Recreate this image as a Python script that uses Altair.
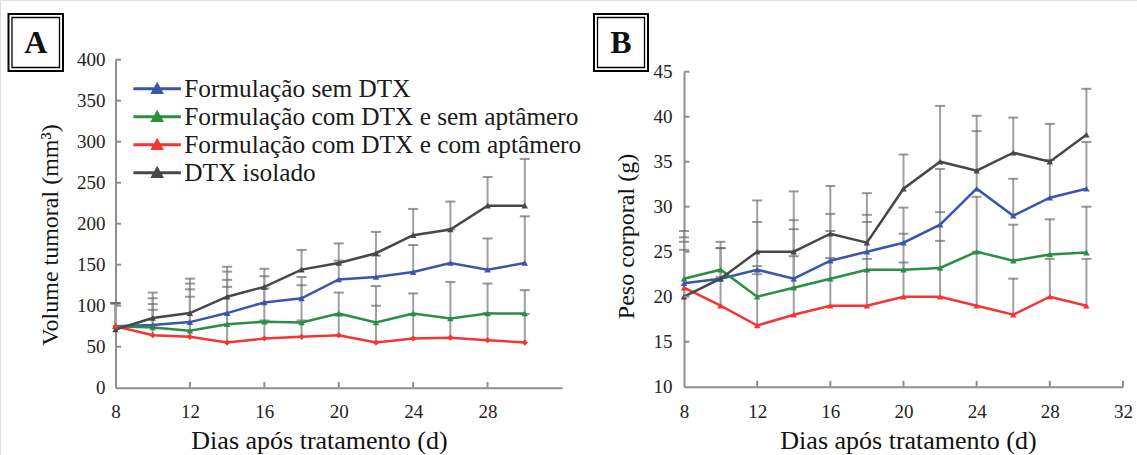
import altair as alt
import pandas as pd

SERIF = "Liberation Serif"

days = [8, 10, 12, 14, 16, 18, 20, 22, 24, 26, 28, 30]
series = [
    "Formulação sem DTX",
    "Formulação com DTX e sem aptâmero",
    "Formulação com DTX e com aptâmero",
    "DTX isolado",
]
colors = ["#3a56ab", "#2a8f44", "#f53434", "#474747"]

# Panel A: tumour volume (mm³) – means and upper error
vol_sem_dtx = [75, 76.5, 80, 91, 104, 109, 132, 135, 141, 152, 144, 152]
vol_sem_apt = [75, 73.5, 69.5, 77.5, 80.5, 79.5, 90.5, 79.5, 90.5, 84.5, 90.5, 90.5]
vol_com_apt = [75, 64, 62, 55, 60, 62, 64, 55, 60, 61, 58, 55]
vol_dtx = [71, 85, 91, 111, 123, 144, 152, 164, 186, 193, 222, 222]

err_vol_sem_dtx = [28, 32.5, 47, 50.5, 32, 26, 23, 26, 33, 41, 38, 57]
err_vol_sem_apt = [28, 28.5, 50.5, 54, 40.5, 45.5, 25.5, 44.5, 24.5, 44.5, 36.5, 28.5]
err_vol_com_apt = [28, 31, 49, 68, 22, 20, 24, 45, 30, 24, 33, 35]
err_vol_dtx = [32, 31, 42, 36.5, 22, 24, 24, 26, 32, 34, 35, 57]

# Panel B: body weight (g) – means and upper error
peso_sem_dtx = [21.5, 22, 23, 22, 24, 25, 26, 28, 32, 29, 31, 32]
peso_sem_apt = [22, 23, 20, 21, 22, 23, 23, 23.2, 25, 24, 24.7, 24.9]
peso_com_apt = [21, 19, 16.8, 18, 19, 19, 20, 20, 19, 18, 20, 19]
peso_dtx = [20, 22, 25, 25, 27, 26, 32, 35, 34, 36, 35, 38]

err_peso_sem_dtx = [5.1, 3.4, 5.3, 6.5, 5.2, 4.1, 3.9, 6.2, 6.4, 4.1, 4.2, 5.2]
err_peso_sem_apt = [5.3, 3.1, 3.4, 6.5, 5.3, 5.3, 4.0, 6.2, 6.1, 4.0, 3.9, 5.1]
err_peso_com_apt = [5.1, 3.2, 5.7, 6.5, 5.3, 5.2, 3.8, 6.2, 6.0, 4.0, 4.2, 5.2]
err_peso_dtx = [5.2, 3.4, 5.7, 6.7, 5.3, 5.5, 3.8, 6.2, 6.1, 3.9, 4.2, 5.1]

ticks_x_a = [8, 12, 16, 20, 24, 28]
ticks_x_b = [8, 12, 16, 20, 24, 28, 32]
ticks_y_a = [0, 50, 100, 150, 200, 250, 300, 350, 400]
ticks_y_b = [10, 15, 20, 25, 30, 35, 40, 45]


def long_table(values, errors):
    rows = []
    for name, vals, errs in zip(series, values, errors):
        for d, v, e in zip(days, vals, errs):
            rows.append({"dia": d, "serie": name, "valor": v, "topo": v + e})
    return pd.DataFrame(rows)


df_a = long_table([vol_sem_dtx, vol_sem_apt, vol_com_apt, vol_dtx],
                  [err_vol_sem_dtx, err_vol_sem_apt, err_vol_com_apt, err_vol_dtx])
df_b = long_table([peso_sem_dtx, peso_sem_apt, peso_com_apt, peso_dtx],
                  [err_peso_sem_dtx, err_peso_sem_apt, err_peso_com_apt, err_peso_dtx])

AXIS_GREY = "#8f8f8f"
axis_style = dict(
    grid=False, ticks=False, tickSize=0, domainColor=AXIS_GREY, domainWidth=2,
    labelFont=SERIF, labelFontSize=19, labelColor="#222222", labelFlush=False,
    labelOverlap=False, titleFont=SERIF, titleColor="#111111",
    titleFontWeight="normal", titleBaseline="alphabetic", format="d",
)

color_scale = alt.Scale(domain=series, range=colors)
# legend swatch: a short line with a triangle marker in the middle
legend = alt.Legend(
    orient="none", legendX=144.5, legendY=76, title=None,
    symbolType="M-2.5,0H2.5M-0.45,0.4L0,-0.4L0.45,0.4Z",
    symbolSize=361, symbolStrokeWidth=3, labelFont=SERIF, labelFontSize=25.3,
    labelColor="#1a1a1a", labelOffset=14.5, rowPadding=2, padding=0,
    labelLimit=0,
)


def panel(df, xs, ys, ax_x, ax_y, tx, ty, x_tick_len, y_tick_len, diamond_series):
    X = lambda f: alt.X(f, type="quantitative", scale=xs, axis=ax_x)
    Y = lambda f: alt.Y(f, type="quantitative", scale=ys, axis=ax_y)
    base = alt.Chart(df)
    err = base.mark_rule(color="#a0a0a0", strokeWidth=2).encode(
        x=X("dia"), y=Y("valor"), y2="topo")
    cap = base.mark_tick(color="#6c6c6c", orient="horizontal", size=10,
                         thickness=2).encode(x=X("dia"), y=Y("topo"))
    line = base.mark_line(strokeWidth=2.5).encode(
        x=X("dia"), y=Y("valor"),
        color=alt.Color("serie:N", scale=color_scale, legend=legend))
    is_diamond = alt.FieldOneOfPredicate(field="serie", oneOf=diamond_series or ["-"])
    pts_tri = base.transform_filter(~is_diamond).mark_point(
        filled=True, size=42, opacity=1, shape="triangle-up").encode(
        x=X("dia"), y=Y("valor"),
        color=alt.Color("serie:N", scale=color_scale, legend=None))
    pts_dia = base.transform_filter(is_diamond).mark_point(
        filled=True, size=38, opacity=1, shape="diamond").encode(
        x=X("dia"), y=Y("valor"),
        color=alt.Color("serie:N", scale=color_scale, legend=None))
    # short inward ticks along both axes
    xt = pd.DataFrame({"t": tx, "y0": ys.domain[0], "y1": ys.domain[0] + y_tick_len})
    yt = pd.DataFrame({"t": ty, "x0": xs.domain[0], "x1": xs.domain[0] + x_tick_len})
    tick_x = alt.Chart(xt).mark_rule(color=AXIS_GREY, strokeWidth=2).encode(
        x=X("t"), y=Y("y0"), y2="y1")
    tick_y = alt.Chart(yt).mark_rule(color=AXIS_GREY, strokeWidth=2).encode(
        y=Y("t"), x=X("x0"), x2="x1")
    return alt.layer(err, cap, line, pts_tri, pts_dia, tick_x, tick_y)


xs_a = alt.Scale(domain=[8, 32], range=[115.5, 562], nice=False, zero=False)
ys_a = alt.Scale(domain=[0, 400], range=[387.7, 59.7], nice=False)
xs_b = alt.Scale(domain=[8, 32], range=[684, 1123], nice=False, zero=False)
ys_b = alt.Scale(domain=[10, 45], range=[386.7, 71.7], nice=False, zero=False)

ax_xa = alt.Axis(orient="bottom", offset=-67.3, values=ticks_x_a, labelPadding=15,
                 title="Dias após tratamento (d)", titleFontSize=26,
                 titleX=319, titleY=61, **axis_style)
ax_ya = alt.Axis(orient="left", offset=-115.5, values=ticks_y_a, labelPadding=10.5,
                 title="Volume tumoral (mm³)", titleFontSize=24, titleAngle=270,
                 titleX=-58.5, titleY=234.5, **axis_style)
ax_xb = alt.Axis(orient="bottom", offset=-68.3, values=ticks_x_b, labelPadding=16,
                 title="Dias após tratamento (d)", titleFontSize=26,
                 titleX=908, titleY=62, **axis_style)
ax_yb = alt.Axis(orient="left", offset=-684, values=ticks_y_b, labelPadding=12,
                 title="Peso corporal (g)", titleFontSize=24, titleAngle=270,
                 titleX=-51, titleY=236, **axis_style)

panel_a = panel(df_a, xs_a, ys_a, ax_xa, ax_ya, ticks_x_a[1:], ticks_y_a[1:], 0.3, 7,
                [series[2]])
panel_b = panel(df_b, xs_b, ys_b, ax_xb, ax_yb, ticks_x_b[1:], ticks_y_b[1:], 0.3, 0.65,
                [])

# boxed panel letters
letters = pd.DataFrame({"letra": ["A", "B"], "x0": [8.5, 594], "x1": [63, 648],
                        "xi0": [12, 597.5], "xi1": [59.5, 644.5]})
box_base = alt.Chart(letters)
outer = box_base.mark_rect(fill="white", stroke="#000000", strokeWidth=2).encode(
    x=alt.X("x0:Q", scale=None, axis=None), x2="x1",
    y=alt.value(14), y2=alt.value(71))
inner = box_base.mark_rect(fill="white", stroke="#000000", strokeWidth=1.3).encode(
    x=alt.X("xi0:Q", scale=None, axis=None), x2="xi1",
    y=alt.value(17.5), y2=alt.value(67.5))
letter_txt = box_base.transform_calculate(cx="(datum.x0 + datum.x1) / 2").mark_text(
    font=SERIF, fontSize=32, fontWeight="bold", color="#111111", baseline="middle"
).encode(x=alt.X("cx:Q", scale=None, axis=None), y=alt.value(43), text="letra:N")
labels = alt.layer(outer, inner, letter_txt)

chart = (
    alt.layer(panel_a, panel_b, labels)
    .resolve_scale(x="independent", y="independent")
    .properties(width=1137, height=455, autosize=alt.AutoSizeParams(type="none"), padding=0)
    .configure_view(stroke=None)
    .configure(background="white")
)

chart.save("out.html", embed_options={"renderer": "svg", "actions": False})
